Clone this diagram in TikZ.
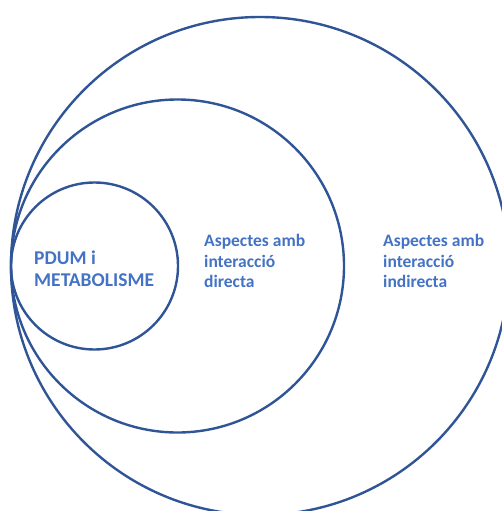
\documentclass[tikz,border=0pt]{standalone}
\usepackage{fontspec}
\setmainfont{Carlito}
\definecolor{ringblue}{HTML}{2F5597}
\definecolor{textblue}{HTML}{4472C4}
\begin{document}
\begin{tikzpicture}[x=1pt,y=-1pt,
  ring/.style={draw=ringblue, line width=2.4pt, circle, inner sep=0pt},
  lbl/.style={text=textblue, font=\bfseries\fontsize{17.5}{20.5}\selectfont, align=left, inner sep=0pt, anchor=north west}]
\useasboundingbox (0,0) rectangle (502,511);
\clip (0,0) rectangle (502,511);
\node[ring, minimum size=498pt] (big) at (260,266) {};
\node[ring, minimum size=333pt] (mid) at (177.5,266) {};
\node[ring, minimum size=167pt] (small) at (94.5,266) {};
\node[lbl, font=\bfseries\fontsize{19.5}{22}\selectfont] (t1) at (34,250.5) {PDUM i\\METABOLISME};
\node[lbl] (t2) at (204,234.5) {Aspectes amb\\interacció\\directa};
\node[lbl] (t3) at (383,234.5) {Aspectes amb\\interacció\\indirecta};
\end{tikzpicture}
\end{document}
